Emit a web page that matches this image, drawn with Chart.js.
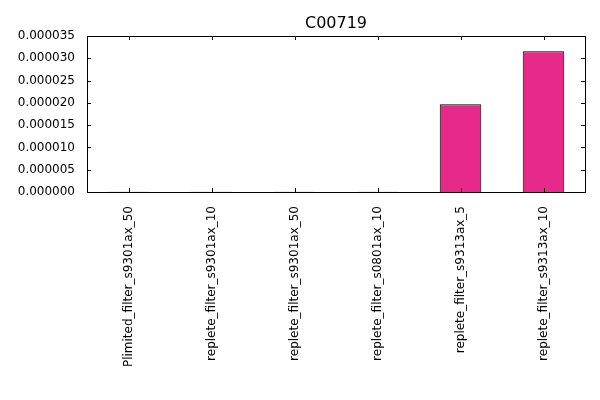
<!DOCTYPE html>
<html><head><meta charset="utf-8">
<script src="https://cdn.jsdelivr.net/npm/chart.js"></script>
<style>body{margin:0;background:#fff}#w{width:600px;height:400px}</style>
</head><body><div id="w"><canvas id="c" width="600" height="400"></canvas></div>
<script>
const categories=["Plimited_filter_s9301ax_50","replete_filter_s9301ax_10","replete_filter_s9301ax_50","replete_filter_s0801ax_10","replete_filter_s9313ax_5","replete_filter_s9313ax_10"];
const values=[0.00000005,0.00000005,0.00000005,0.00000005,0.0000197,0.0000316];
const yTicks=[0,0.000005,0.00001,0.000015,0.00002,0.000025,0.00003,0.000035];
const F='"DejaVu Sans", sans-serif';
const deco={id:'deco',afterDraw(ch){const a=ch.chartArea,x=ch.ctx;x.save();x.strokeStyle='#000';x.lineWidth=1;x.strokeRect(a.left+0.5,a.top+0.5,a.right-a.left,a.bottom-a.top);
x.fillStyle='#000';x.font='16px '+F;x.textAlign='center';x.textBaseline='bottom';x.fillText('C00719',(a.left+a.right)/2,a.top-4);
const ys=ch.scales.y;x.beginPath();yTicks.forEach(t=>{const p=Math.round(ys.getPixelForValue(t))+0.5;x.moveTo(a.left,p);x.lineTo(a.left+4,p);x.moveTo(a.right,p);x.lineTo(a.right-4,p);});
const xs=ch.scales.x;categories.forEach((c,i)=>{const p=Math.round(xs.getPixelForValue(i))+0.5;x.moveTo(p,a.bottom);x.lineTo(p,a.bottom-4);x.moveTo(p,a.top);x.lineTo(p,a.top+4);});x.stroke();x.restore();}};
new Chart(document.getElementById('c'),{type:'bar',data:{labels:categories,datasets:[{data:values,backgroundColor:'#e7298a',borderColor:'#000',borderWidth:1,categoryPercentage:1,barPercentage:0.5}]},
options:{responsive:false,animation:false,layout:{padding:{top:36,right:15,left:0,bottom:0}},plugins:{legend:{display:false},tooltip:{enabled:false}},
scales:{x:{grid:{display:false},border:{display:false},ticks:{color:'#000',font:{family:F,size:12},maxRotation:90,minRotation:90,autoSkip:false,padding:6},afterFit(s){s.height=208;}},
y:{min:0,max:0.000035,grid:{display:false},border:{display:false},afterBuildTicks(s){s.ticks=yTicks.map(v=>({value:v}));},ticks:{color:'#000',font:{family:F,size:12},padding:4,callback:v=>Number(v).toFixed(6)},afterFit(s){s.width=87;}}}},plugins:[deco]});
</script></body></html>
